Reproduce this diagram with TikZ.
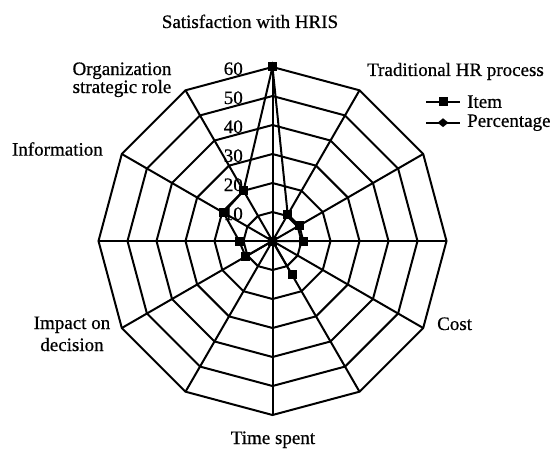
\documentclass[tikz,border=0pt]{standalone}
\usepackage{fontspec}
\setmainfont{Liberation Serif}[FakeBold=0.6]
\usetikzlibrary{shapes.geometric}
\begin{document}
\begin{tikzpicture}[x=1pt,y=1pt,
  gridline/.style={line width=2pt, line join=miter},
  dataline/.style={line width=2pt, line join=miter},
  lbl/.style={font=\fontsize{19}{18}\selectfont, inner sep=0pt},
  sqmark/.style={fill=black, rectangle, minimum size=9pt, inner sep=0pt},
  dmmark/.style={fill=black, diamond, minimum width=11pt, minimum height=9pt, inner sep=0pt}]
\useasboundingbox (0,0) rectangle (553,448);
\fill[white] (0,0) rectangle (553,448);
\coordinate (O) at (272.5,207);
\begin{scope}[shift={(O)}]
  \foreach \r in {1,...,6}{
    \draw[gridline] (0:29*\r) \foreach \a in {30,60,...,330}{ -- (\a:29*\r)} -- cycle;
  }
  \foreach \a in {0,30,...,330}{
    \coordinate (v\a) at (\a:174);
    \draw[gridline] (0,0) -- (v\a);
  }
\end{scope}
% scale labels
\foreach \v in {10,20,...,60}{
  \node[lbl, anchor=base east] (t\v) at (243,{199+2.9*\v}) {\v};
}
% data
\begin{scope}[shift={(O)}]
  \foreach \a/\v in {90/60,60/10.5,30/10.7,0/10.6,330/0,300/13.5,270/0,240/0,210/10.7,180/11.5,150/19.5,120/20}{
    \coordinate (d\a) at (\a:2.9*\v);
  }
\end{scope}
\draw[dataline] (d90) -- (d60) -- (d30) -- (d0) -- (d330) -- (d300) -- (d270) -- (d240) -- (d210) -- (d180) -- (d150) -- (d120) -- cycle;
\foreach \a in {90,60,30,0,330,300,270,240,210,180,150,120}{
  \node[sqmark] (m\a) at (d\a) {};
}
\node[dmmark] (pc) at (O) {};
% category labels
\node[lbl, anchor=base] (title) at (250,420) {Satisfaction with HRIS};
\node[lbl, anchor=base, align=center] (org) at (122,355) {Organization\\strategic role};
\node[lbl, anchor=base west] (trad) at (367,372) {Traditional HR process};
\node[lbl, anchor=east] (info) at (103,299) {Information};
\node[lbl, anchor=base, align=center, font=\fontsize{19}{22}\selectfont] (imp) at (72,97) {Impact on\\decision};
\node[lbl, anchor=base west] (cost) at (437,118) {Cost};
\node[lbl, anchor=base] (time) at (273,4) {Time spent};
% legend
\coordinate (la1) at (426,346.3); \coordinate (lb1) at (460,346.3);
\coordinate (la2) at (426,325.3); \coordinate (lb2) at (460,325.3);
\draw[dataline] (la1) -- (lb1);
\draw[dataline] (la2) -- (lb2);
\node[sqmark] (lm1) at (443,346.3) {};
\node[dmmark] (lm2) at (443,325.3) {};
\node[lbl, anchor=west] (item) at (467,346.3) {Item};
\node[lbl, anchor=west] (perc) at (467,325.3) {Percentage};
\end{tikzpicture}
\end{document}
